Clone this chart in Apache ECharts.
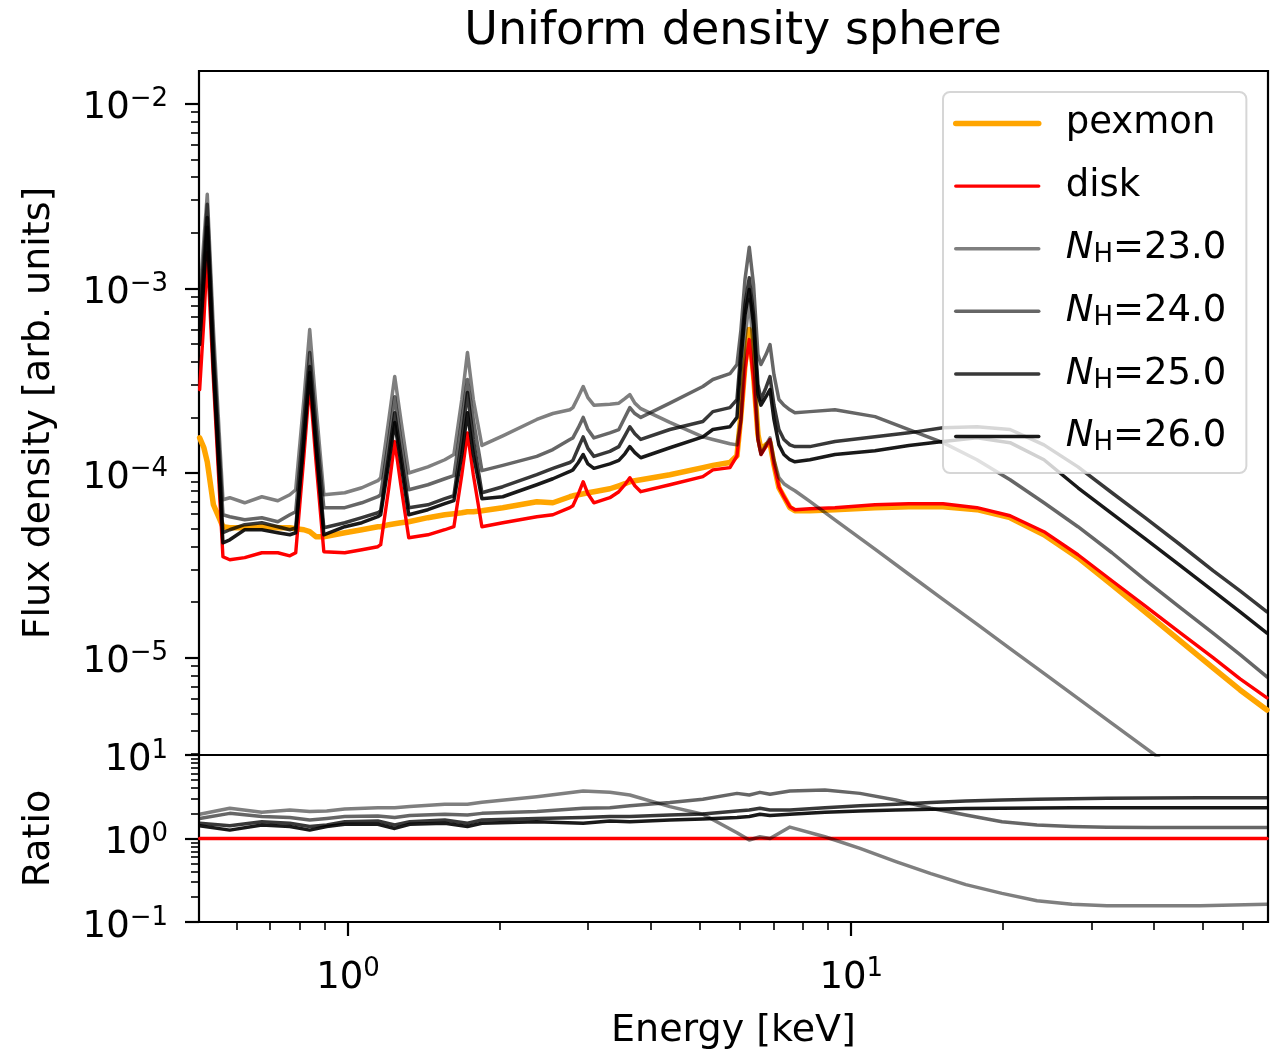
<!DOCTYPE html>
<html>
<head>
<meta charset="utf-8">
<script src="https://cdn.jsdelivr.net/npm/echarts@6/dist/echarts.min.js"></script>
<style>html,body{margin:0;padding:0;background:#fff}#c{width:1272px;height:1056px}</style>
</head>
<body>
<div id="c"></div>
<script>
// ---------- data ----------
const energy = [0.507, 0.517, 0.525, 0.540, 0.564, 0.582, 0.623, 0.674, 0.725, 0.766,
  0.787, 0.817, 0.839, 0.863, 0.895, 0.985, 1.065, 1.146,
  1.161, 1.205, 1.238, 1.273, 1.320, 1.441, 1.557,
  1.623, 1.683, 1.727, 1.774, 1.845, 2.030, 2.372, 2.553, 2.760,
  2.798, 2.869, 2.933, 2.997, 3.080, 3.314,
  3.453, 3.549, 3.631, 3.715, 3.818, 4.361, 5.072, 5.309, 5.741, 5.929,
  6.038, 6.151, 6.272, 6.395, 6.527,
  6.617, 6.770, 6.896, 7.022, 7.183,
  7.349, 7.553, 7.729, 8.277, 9.282, 11.15, 13.02, 15.22, 17.78, 20.69, 24.16, 28.23, 32.98, 38.37, 44.82, 52.38, 59.28, 67.05];

const pexmon = [1.55e-4, 1.37e-4, 1.15e-4, 6.73e-5, 5.12e-5, 5.05e-5, 5.05e-5, 5.12e-5, 5.05e-5, 5.05e-5,
  4.99e-5, 4.93e-5, 4.81e-5, 4.52e-5, 4.52e-5, 4.75e-5, 4.93e-5, 5.12e-5,
  5.12e-5, 5.25e-5, 5.31e-5, 5.38e-5, 5.45e-5, 5.73e-5, 5.94e-5,
  6.02e-5, 6.09e-5, 6.17e-5, 6.17e-5, 6.25e-5, 6.49e-5, 6.99e-5, 6.90e-5, 7.44e-5,
  7.53e-5, 7.63e-5, 7.72e-5, 7.82e-5, 7.92e-5, 8.22e-5,
  8.53e-5, 8.75e-5, 8.97e-5, 9.09e-5, 9.20e-5, 9.79e-5, 1.07e-4, 1.10e-4, 1.14e-4, 1.24e-4,
  2.07e-4, 3.87e-4, 5.98e-4, 3.41e-4, 1.61e-4,
  1.34e-4, 1.42e-4, 1.46e-4, 1.11e-4, 8.32e-5,
  7.44e-5, 6.49e-5, 6.25e-5, 6.25e-5, 6.33e-5, 6.49e-5, 6.57e-5, 6.57e-5, 6.33e-5, 5.73e-5, 4.63e-5, 3.48e-5, 2.48e-5, 1.77e-5, 1.25e-5, 8.81e-6, 6.69e-6, 5.21e-6];

const disk = [2.83e-4, 6.78e-4, 1.56e-3, 3.21e-4, 3.52e-5, 3.39e-5, 3.48e-5, 3.70e-5, 3.70e-5, 3.56e-5,
  3.70e-5, 1.24e-4, 3.09e-4, 1.18e-4, 3.75e-5, 3.70e-5, 3.84e-5, 3.99e-5,
  4.09e-5, 8.32e-5, 1.48e-4, 8.64e-5, 4.46e-5, 4.63e-5, 4.93e-5,
  5.12e-5, 9.79e-5, 1.65e-4, 9.79e-5, 5.12e-5, 5.38e-5, 5.80e-5, 5.94e-5, 6.49e-5,
  6.65e-5, 7.72e-5, 8.97e-5, 7.72e-5, 6.90e-5, 7.35e-5,
  7.92e-5, 8.64e-5, 9.43e-5, 8.53e-5, 7.92e-5, 8.64e-5, 9.55e-5, 1.04e-4, 1.07e-4, 1.24e-4,
  1.95e-4, 3.63e-4, 5.28e-4, 3.21e-4, 1.52e-4,
  1.26e-4, 1.39e-4, 1.52e-4, 1.11e-4, 8.43e-5,
  7.44e-5, 6.57e-5, 6.33e-5, 6.41e-5, 6.49e-5, 6.73e-5, 6.82e-5, 6.82e-5, 6.49e-5, 5.87e-5, 4.81e-5, 3.61e-5, 2.61e-5, 1.91e-5, 1.38e-5, 1.00e-5, 7.68e-6, 6.06e-6];

const nh23 = [8.70e-4, 1.84e-3, 3.23e-3, 5.98e-4, 7.17e-5, 7.35e-5, 6.90e-5, 7.44e-5, 7.08e-5, 7.63e-5,
  8.12e-5, 2.50e-4, 5.98e-4, 2.33e-4, 7.63e-5, 7.82e-5, 8.32e-5, 9.09e-5,
  9.43e-5, 1.95e-4, 3.33e-4, 1.95e-4, 1.00e-4, 1.08e-4, 1.18e-4,
  1.26e-4, 2.50e-4, 4.49e-4, 2.50e-4, 1.41e-4, 1.59e-4, 1.95e-4, 2.10e-4, 2.20e-4,
  2.26e-4, 2.59e-4, 2.94e-4, 2.56e-4, 2.33e-4, 2.36e-4,
  2.39e-4, 2.53e-4, 2.66e-4, 2.39e-4, 2.23e-4, 1.88e-4, 1.57e-4, 1.52e-4, 1.44e-4, 1.42e-4,
  1.95e-4, 5.28e-4, 8.70e-4, 4.66e-4, 1.52e-4,
  1.26e-4, 1.42e-4, 1.55e-4, 1.18e-4, 9.43e-5,
  8.75e-5, 8.32e-5, 8.02e-5, 7.02e-5, 5.58e-5, 3.87e-5, 2.83e-5, 2.07e-5, 1.52e-5, 1.12e-5, 8.22e-6, 6.02e-6, 4.41e-6, 3.26e-6, 2.39e-6, 1.7e-6, 1.3e-6, 1.0e-6];

const nh24 = [7.21e-4, 1.53e-3, 2.85e-3, 4.96e-4, 5.94e-5, 5.80e-5, 5.58e-5, 5.73e-5, 5.45e-5, 5.94e-5,
  6.17e-5, 1.95e-4, 4.49e-4, 1.83e-4, 6.49e-5, 6.49e-5, 6.90e-5, 7.44e-5,
  7.63e-5, 1.52e-4, 2.59e-4, 1.52e-4, 8.12e-5, 8.64e-5, 9.31e-5,
  9.67e-5, 1.95e-4, 3.21e-4, 1.95e-4, 1.03e-4, 1.10e-4, 1.23e-4, 1.34e-4, 1.52e-4,
  1.55e-4, 1.76e-4, 2.00e-4, 1.72e-4, 1.55e-4, 1.65e-4,
  1.72e-4, 2.00e-4, 2.26e-4, 2.10e-4, 2.00e-4, 2.39e-4, 2.94e-4, 3.21e-4, 3.45e-4, 3.87e-4,
  5.98e-4, 1.12e-3, 1.67e-3, 1.05e-3, 4.38e-4,
  3.87e-4, 4.38e-4, 4.96e-4, 3.41e-4, 2.50e-4,
  2.33e-4, 2.20e-4, 2.12e-4, 2.15e-4, 2.20e-4, 2.02e-4, 1.72e-4, 1.46e-4, 1.18e-4, 9.20e-5, 6.90e-5, 5.12e-5, 3.70e-5, 2.64e-5, 1.89e-5, 1.36e-5, 1.04e-5, 7.87e-6];

const nh25 = [5.98e-4, 1.27e-3, 2.42e-3, 4.11e-4, 4.75e-5, 4.93e-5, 5.25e-5, 5.38e-5, 5.12e-5, 4.93e-5,
  5.05e-5, 1.61e-4, 3.77e-4, 1.52e-4, 5.05e-5, 5.38e-5, 5.73e-5, 6.09e-5,
  6.25e-5, 1.26e-4, 2.12e-4, 1.26e-4, 6.49e-5, 6.73e-5, 7.26e-5,
  7.53e-5, 1.52e-4, 2.73e-4, 1.52e-4, 7.82e-5, 8.43e-5, 9.79e-5, 1.06e-4, 1.14e-4,
  1.17e-4, 1.37e-4, 1.57e-4, 1.36e-4, 1.23e-4, 1.31e-4,
  1.39e-4, 1.59e-4, 1.78e-4, 1.63e-4, 1.52e-4, 1.72e-4, 1.90e-4, 2.15e-4, 2.26e-4, 2.50e-4,
  4.66e-4, 8.17e-4, 1.14e-3, 7.21e-4, 3.01e-4,
  2.50e-4, 2.90e-4, 3.33e-4, 2.33e-4, 1.72e-4,
  1.52e-4, 1.42e-4, 1.39e-4, 1.39e-4, 1.48e-4, 1.57e-4, 1.65e-4, 1.76e-4, 1.78e-4, 1.72e-4, 1.42e-4, 1.08e-4, 7.82e-5, 5.73e-5, 4.14e-5, 2.96e-5, 2.30e-5, 1.77e-5];

const nh26 = [4.96e-4, 1.09e-3, 2.14e-3, 3.63e-4, 4.19e-5, 4.35e-5, 4.93e-5, 4.93e-5, 4.75e-5, 4.63e-5,
  4.75e-5, 1.48e-4, 3.50e-4, 1.39e-4, 4.63e-5, 5.12e-5, 5.38e-5, 5.80e-5,
  5.94e-5, 1.14e-4, 1.88e-4, 1.14e-4, 5.94e-5, 6.33e-5, 6.82e-5,
  7.08e-5, 1.26e-4, 2.12e-4, 1.26e-4, 7.26e-5, 7.44e-5, 8.64e-5, 9.31e-5, 1.02e-4,
  1.04e-4, 1.14e-4, 1.26e-4, 1.12e-4, 1.06e-4, 1.12e-4,
  1.17e-4, 1.27e-4, 1.39e-4, 1.29e-4, 1.21e-4, 1.37e-4, 1.57e-4, 1.72e-4, 1.78e-4, 2.00e-4,
  4.11e-4, 7.21e-4, 9.85e-4, 6.37e-4, 2.66e-4,
  2.33e-4, 2.59e-4, 2.83e-4, 1.95e-4, 1.42e-4,
  1.26e-4, 1.18e-4, 1.15e-4, 1.18e-4, 1.26e-4, 1.32e-4, 1.41e-4, 1.48e-4, 1.55e-4, 1.46e-4, 1.18e-4, 8.32e-5, 6.02e-5, 4.41e-5, 3.19e-5, 2.30e-5, 1.77e-5, 1.36e-5];

const ratioEnergy = [0.507, 0.582, 0.674, 0.766, 0.839, 0.907, 0.985, 1.146, 1.238, 1.326, 1.557, 1.727, 1.845, 2.372, 2.933, 3.314, 3.631, 4.361, 5.072, 5.929, 6.272, 6.585, 6.896, 7.553, 8.866, 10.41, 12.27, 14.40, 16.90, 19.94, 23.40, 27.47, 32.24, 39.26, 49.34, 67.05];
const ratio23 = [1.95, 2.30, 2.06, 2.19, 2.10, 2.14, 2.26, 2.34, 2.34, 2.41, 2.57, 2.57, 2.71, 3.17, 3.71, 3.57, 3.32, 2.41, 1.95, 1.17, 0.96, 1.05, 1.00, 1.37, 1.05, 0.76, 0.53, 0.38, 0.28, 0.22, 0.18, 0.163, 0.157, 0.156, 0.157, 0.163];
const ratio24 = [1.74, 2.00, 1.83, 1.78, 1.67, 1.74, 1.83, 1.86, 1.78, 1.88, 1.95, 1.91, 2.00, 2.10, 2.30, 2.34, 2.47, 2.69, 2.95, 3.47, 3.32, 3.57, 3.38, 3.71, 3.81, 3.47, 2.89, 2.30, 1.91, 1.59, 1.45, 1.39, 1.36, 1.35, 1.35, 1.35];
const ratio25 = [1.52, 1.42, 1.59, 1.52, 1.39, 1.45, 1.59, 1.62, 1.45, 1.59, 1.67, 1.52, 1.67, 1.74, 1.78, 1.83, 1.83, 1.91, 1.97, 2.14, 2.19, 2.30, 2.19, 2.19, 2.34, 2.47, 2.57, 2.69, 2.81, 2.89, 2.95, 3.00, 3.03, 3.06, 3.08, 3.08];
const ratio26 = [1.42, 1.26, 1.45, 1.39, 1.26, 1.39, 1.48, 1.48, 1.32, 1.48, 1.52, 1.39, 1.52, 1.59, 1.52, 1.62, 1.59, 1.67, 1.71, 1.78, 1.83, 1.95, 1.88, 1.95, 2.06, 2.14, 2.19, 2.24, 2.28, 2.30, 2.32, 2.34, 2.34, 2.34, 2.34, 2.34];
const ratioDiskEnergy = [0.507, 67.05];
const ratioDisk = [1, 1];

const seriesNames = ['pexmon', 'disk', 'NH=23.0', 'NH=24.0', 'NH=25.0', 'NH=26.0'];

// axis ranges and tick positions
const xRange = [0.5055, 67.36];
const fluxRange = [2.972e-6, 1.503e-2];
const ratioRange = [0.1, 10];
const xMajorTicks = [1, 10];
const xMinorTicks = [0.6, 0.7, 0.8, 0.9, 2, 3, 4, 5, 6, 7, 8, 9, 20, 30, 40, 50, 60];
const fluxMajorTicks = [1e-5, 1e-4, 1e-3, 1e-2];
const fluxMinorTicks = [3e-6, 4e-6, 5e-6, 6e-6, 7e-6, 8e-6, 9e-6,
  2e-5, 3e-5, 4e-5, 5e-5, 6e-5, 7e-5, 8e-5, 9e-5,
  2e-4, 3e-4, 4e-4, 5e-4, 6e-4, 7e-4, 8e-4, 9e-4,
  2e-3, 3e-3, 4e-3, 5e-3, 6e-3, 7e-3, 8e-3, 9e-3];
const ratioMajorTicks = [0.1, 1, 10];
const ratioMinorTicks = [0.2, 0.3, 0.4, 0.5, 0.6, 0.7, 0.8, 0.9, 2, 3, 4, 5, 6, 7, 8, 9];

// ---------- chart ----------
const FONT = 'DejaVu Sans';
const zip = (xs, ys) => xs.map((x, i) => [x, ys[i]]);
const powLabel = v => {
  const e = Math.round(Math.log10(v));
  const s = e < 0 ? '\u2212' + (-e) : String(e);
  return '{b|10}{s|' + s + '}';
};
const labelRich = {
  b: {fontFamily: FONT, fontSize: 37, lineHeight: 44, color: '#000'},
  s: {fontFamily: FONT, fontSize: 26, lineHeight: 27, verticalAlign: 'top', color: '#000'}
};
const tickMajor = {color: '#000', width: 2.2};
const tickMinor = {color: '#000', width: 1.6};
const nameStyle = {fontFamily: FONT, fontSize: 38, color: '#000'};

function logAxis(extra) {
  return Object.assign({
    type: 'log', logBase: 10,
    axisLine: {show: false},
    splitLine: {show: false},
    minorTick: {show: false},
    minorSplitLine: {show: false},
    nameMoveOverlap: false
  }, extra);
}

const xAxes = [
  logAxis({gridIndex: 0, min: xRange[0], max: xRange[1], position: 'bottom', axisTick: {show: false}, axisLabel: {show: false}}),
  logAxis({gridIndex: 1, min: xRange[0], max: xRange[1], position: 'bottom',
    axisTick: {show: true, customValues: xMajorTicks, length: 14, lineStyle: tickMajor},
    axisLabel: {show: true, customValues: xMajorTicks, formatter: powLabel, margin: 34, rich: labelRich},
    name: 'Energy [keV]', nameLocation: 'middle', nameGap: 90, nameTextStyle: nameStyle}),
  logAxis({gridIndex: 1, min: xRange[0], max: xRange[1], position: 'bottom',
    axisTick: {show: true, customValues: xMinorTicks, length: 8, lineStyle: tickMinor},
    axisLabel: {show: false}})
];
const yAxes = [
  logAxis({gridIndex: 0, min: fluxRange[0], max: fluxRange[1], position: 'left',
    axisTick: {show: true, customValues: fluxMajorTicks, length: 14, lineStyle: tickMajor},
    axisLabel: {show: true, customValues: fluxMajorTicks, formatter: powLabel, margin: 31, padding: [10, 0, 0, 0], rich: labelRich},
    name: 'Flux density [arb. units]', nameLocation: 'middle', nameGap: 141, nameTextStyle: nameStyle}),
  logAxis({gridIndex: 0, min: fluxRange[0], max: fluxRange[1], position: 'left',
    axisTick: {show: true, customValues: fluxMinorTicks, length: 8, lineStyle: tickMinor},
    axisLabel: {show: false}}),
  logAxis({gridIndex: 1, min: ratioRange[0], max: ratioRange[1], position: 'left',
    axisTick: {show: true, customValues: ratioMajorTicks, length: 14, lineStyle: tickMajor},
    axisLabel: {show: true, customValues: ratioMajorTicks, formatter: powLabel, margin: 31, padding: [10, 0, 0, 0], rich: labelRich},
    name: 'Ratio', nameLocation: 'middle', nameGap: 141, nameTextStyle: nameStyle}),
  logAxis({gridIndex: 1, min: ratioRange[0], max: ratioRange[1], position: 'left',
    axisTick: {show: true, customValues: ratioMinorTicks, length: 8, lineStyle: tickMinor},
    axisLabel: {show: false}})
];

const styles = {
  'pexmon': {color: '#ffa500', width: 5.5},
  'disk': {color: '#ff0000', width: 3.4},
  'NH=23.0': {color: 'rgba(0,0,0,0.5)', width: 3.5},
  'NH=24.0': {color: 'rgba(0,0,0,0.6)', width: 3.5},
  'NH=25.0': {color: 'rgba(0,0,0,0.78)', width: 3.5},
  'NH=26.0': {color: 'rgba(0,0,0,0.9)', width: 3.5}
};
function lineSeries(name, xIdx, yIdx, data, styleKey) {
  const st = styles[styleKey];
  return {
    name: name, type: 'line', xAxisIndex: xIdx, yAxisIndex: yIdx,
    data: data, symbol: 'none', showSymbol: false, clip: true, smooth: false,
    color: st.color, lineStyle: {color: st.color, width: st.width, join: 'round', cap: 'round'},
    emphasis: {disabled: true}, animation: false
  };
}
const topValues = [pexmon, disk, nh23, nh24, nh25, nh26];
const series = [];
seriesNames.forEach((n, i) => series.push(lineSeries(n, 0, 0, zip(energy, topValues[i]), n)));
series.push(lineSeries('ratio disk', 1, 2, zip(ratioDiskEnergy, ratioDisk), 'disk'));
const ratios = [ratio23, ratio24, ratio25, ratio26];
ratios.forEach((r, i) => series.push(lineSeries('ratio ' + seriesNames[i + 2], 1, 2, zip(ratioEnergy, r), seriesNames[i + 2])));

const chart = echarts.init(document.getElementById('c'), null, {renderer: 'canvas', width: 1272, height: 1056});
chart.setOption({
  animation: false,
  backgroundColor: '#fff',
  textStyle: {fontFamily: FONT},
  title: {
    text: 'Uniform density sphere', left: 733, top: 9, padding: 0,
    textAlign: 'center', textVerticalAlign: 'top',
    textStyle: {fontFamily: FONT, fontSize: 46, lineHeight: 46, fontWeight: 'normal', color: '#000'}
  },
  grid: [
    {left: 199, top: 71, width: 1069, height: 684, show: true, borderColor: '#000', borderWidth: 2.2, backgroundColor: 'transparent', containLabel: false, outerBoundsMode: 'none'},
    {left: 199, top: 755, width: 1069, height: 167, show: true, borderColor: '#000', borderWidth: 2.2, backgroundColor: 'transparent', containLabel: false, outerBoundsMode: 'none'}
  ],
  legend: {
    data: seriesNames, orient: 'vertical', left: 943, top: 92,
    itemWidth: 83, itemHeight: 20, itemGap: 22.6,
    padding: [11.5, 20, 16.5, 10],
    backgroundColor: 'rgba(255,255,255,0.8)', borderColor: 'rgba(204,204,204,0.8)', borderWidth: 2, borderRadius: 7,
    itemStyle: {opacity: 0},
    lineStyle: {width: 'inherit'},
    selectedMode: false,
    formatter: name => name.indexOf('NH=') === 0 ? '{n|N}{h|H}=' + name.slice(3) : name,
    textStyle: {
      fontFamily: FONT, fontSize: 37, color: '#000', lineHeight: 40, padding: [0, 0, 0, 22],
      rich: {
        n: {fontFamily: FONT, fontStyle: 'italic', fontSize: 37, lineHeight: 40, color: '#000'},
        h: {fontFamily: FONT, fontSize: 26, lineHeight: 20, verticalAlign: 'bottom', color: '#000'}
      }
    }
  },
  xAxis: xAxes,
  yAxis: yAxes,
  series: series
});
</script>
</body>
</html>
